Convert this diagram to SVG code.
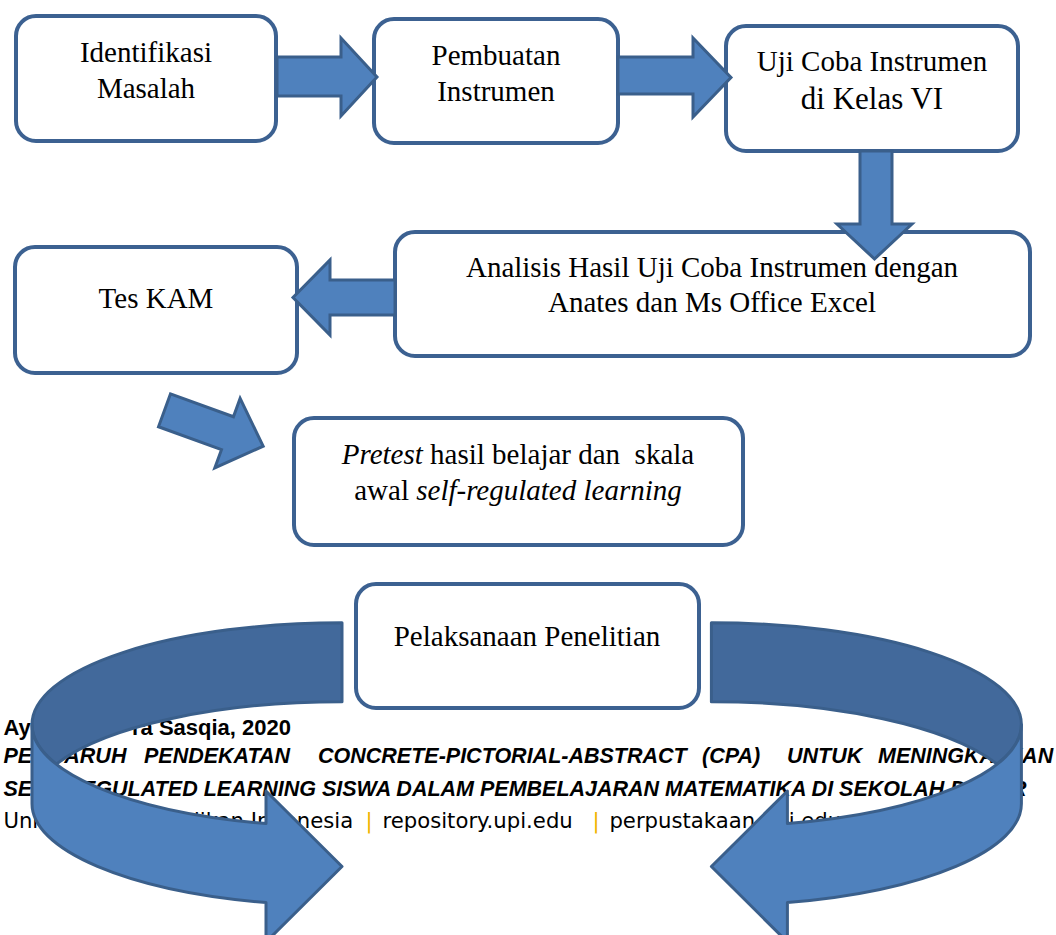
<svg xmlns="http://www.w3.org/2000/svg" width="1056" height="935" viewBox="0 0 1056 935">
<style>
.box{fill:#fff;stroke:#3c6191;stroke-width:4}
.lbl{font-family:"Liberation Serif","Times New Roman",serif;font-size:29px;fill:#000;text-anchor:middle}
.arr{fill:#4f81bd;stroke:#3a5f8b;stroke-width:3;stroke-linejoin:miter}
.back{fill:#42699b;stroke:#3a5f8b;stroke-width:3;stroke-linejoin:round}
.front{fill:#4f81bd;stroke:#3a5f8b;stroke-width:3;stroke-linejoin:round}
.fb{font-family:"Liberation Sans",Arial,sans-serif;font-weight:bold;font-size:22px;fill:#000}
.fbi{font-family:"Liberation Sans",Arial,sans-serif;font-weight:bold;font-style:italic;font-size:21.5px;fill:#000}
.fr{font-family:"DejaVu Sans",Verdana,sans-serif;font-size:21.2px;fill:#000}
.pipe{fill:#f0b400}
</style>
<defs>
<g id="curl">
<path class="back" d="M342,622.7 A310,102 0 0 0 32,724.7 A310,102 0 0 0 56.3,764.1 A310,102 0 0 1 342,701.7 Z"/>
<path class="front" d="M32,724.7 A310,102 0 0 0 266,823.6 L266,791 L342,866.5 L266,942 L266,902.6 A310,102 0 0 1 32,803.7 Z"/>
</g>
</defs>
<rect x="0" y="0" width="1056" height="935" fill="#fff"/>
<g id="footer">
<text class="fb" y="735"><tspan x="3.4">Ay</tspan> <tspan x="132">ra Sasqia, 2020</tspan></text>
<text class="fbi" y="763"><tspan x="3.4">PENGARUH</tspan> <tspan x="144">PENDEKATAN</tspan> <tspan x="318">CONCRETE-PICTORIAL-ABSTRACT</tspan> <tspan x="702">(CPA)</tspan> <tspan x="787">UNTUK</tspan> <tspan x="878">MENINGKATKAN</tspan></text>
<text class="fbi" x="3.4" y="796">SELF-REGULATED LEARNING SISWA DALAM PEMBELAJARAN MATEMATIKA DI SEKOLAH DASAR</text>
<text class="fr" y="828"><tspan x="3.4">Universitas Pendidikan Indonesia</tspan> <tspan x="365.5" class="pipe">|</tspan> <tspan x="382.5">repository.upi.edu</tspan> <tspan x="592.5" class="pipe">|</tspan> <tspan x="609.4">perpustakaan.upi.edu</tspan></text>
</g>
<g id="n1"><rect class="box" x="16" y="16" width="260" height="125" rx="20"/><text class="lbl" x="146" y="62">Identifikasi</text><text class="lbl" x="146" y="98">Masalah</text></g>
<g id="n2"><rect class="box" x="374" y="19" width="244" height="124" rx="20"/><text class="lbl" x="496" y="65">Pembuatan</text><text class="lbl" x="496" y="101">Instrumen</text></g>
<g id="n3"><rect class="box" x="726" y="26" width="292" height="125" rx="20"/><text class="lbl" x="872" y="71">Uji Coba Instrumen</text><text class="lbl" x="872" y="109" style="font-size:31px">di Kelas VI</text></g>
<g id="n4"><rect class="box" x="395" y="232" width="635" height="124" rx="20"/><text class="lbl" x="712" y="277">Analisis Hasil Uji Coba Instrumen dengan</text><text class="lbl" x="712" y="312">Anates dan Ms Office Excel</text></g>
<g id="n5"><rect class="box" x="15" y="247" width="282" height="126" rx="20"/><text class="lbl" x="156" y="308">Tes KAM</text></g>
<g id="n6"><rect class="box" x="294" y="418" width="449" height="127" rx="20"/><text class="lbl" x="518" y="464" xml:space="preserve"><tspan font-style="italic">Pretest</tspan> hasil belajar dan  skala</text><text class="lbl" x="518" y="500">awal <tspan font-style="italic">self-regulated learning</tspan></text></g>
<g id="n7"><rect class="box" x="356" y="584" width="343" height="124" rx="20"/><text class="lbl" x="527" y="646">Pelaksanaan Penelitian</text></g>
<g id="connectors">
<polygon class="arr" points="277,57 341,57 341,38 377,77 341,116 341,96 277,96"/>
<polygon class="arr" points="618,57 693,57 693,38 731,77.5 693,117 693,94 618,94"/>
<polygon class="arr" points="860,151 892,151 892,224 912,224 874.5,259 837,224 860,224"/>
<polygon class="arr" points="395,280 330,280 330,260 293,297.5 330,335 330,315 395,315"/>
<polygon class="arr" transform="translate(164.5,410.3) rotate(20)" points="0,-17.5 67,-17.5 67,-37 105,0 67,37 67,17.5 0,17.5"/>
<use href="#curl"/>
<use href="#curl" transform="matrix(-1,0,0,1,1053.4,0)"/>
</g>
</svg>
